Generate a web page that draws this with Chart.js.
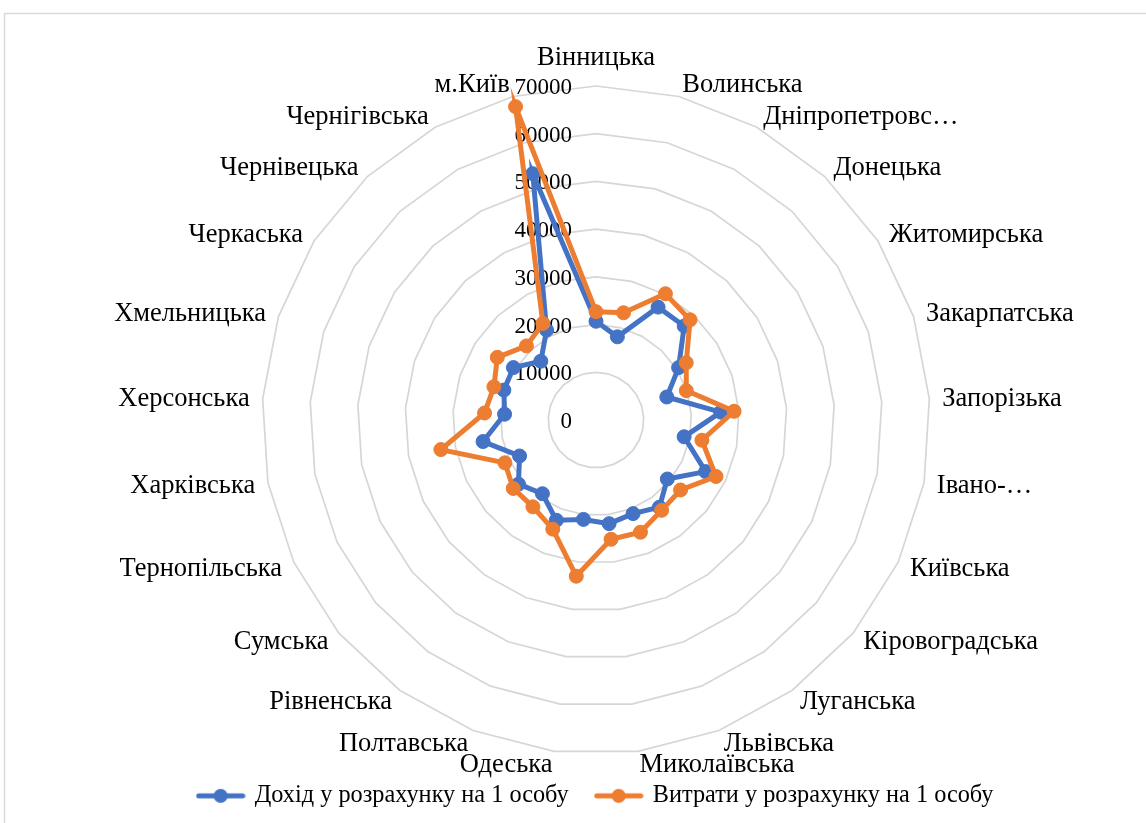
<!DOCTYPE html>
<html>
<head>
<meta charset="utf-8">
<script src="https://cdn.jsdelivr.net/npm/chart.js@4.4.1/dist/chart.umd.min.js"></script>
<style>
  html, body { margin: 0; padding: 0; background: #fff; }
  #wrap { width: 1146px; height: 823px; position: relative; }
</style>
</head>
<body>
<div id="wrap"><canvas id="radarChart"></canvas></div>
<script>
const regions = [
    'Вінницька', 'Волинська', 'Дніпропетровс…', 'Донецька', 'Житомирська',
    'Закарпатська', 'Запорізька', 'Івано-…', 'Київська', 'Кіровоградська',
    'Луганська', 'Львівська', 'Миколаївська', 'Одеська', 'Полтавська',
    'Рівненська', 'Сумська', 'Тернопільська', 'Харківська', 'Херсонська',
    'Хмельницька', 'Черкаська', 'Чернівецька', 'Чернігівська', 'м.Київ'
];
const incomePerPerson = [
    20700, 18000, 27000, 27000, 20500,
    15600, 26200, 18800, 25400, 19400,
    22600, 21100, 21900, 21000, 22600,
    19100, 21100, 17700, 24100, 19200,
    20300, 20500, 16900, 21500, 53300
];
const expensesPerPerson = [
    22700, 23200, 30200, 28800, 22400,
    19900, 29000, 22600, 27800, 23000,
    23400, 25300, 25200, 33000, 24600,
    22500, 22500, 21100, 33100, 23400,
    22500, 24500, 21300, 23100, 67800
];
const seriesNames = ['Дохід у розрахунку на 1 особу', 'Витрати у розрахунку на 1 особу'];
const seriesColors = ['#4472C4', '#ED7D31'];
const axisMax = 70000;
const axisStep = 10000;

const FONT_FAMILY = "'Liberation Serif', 'Times New Roman', serif";
const TICK_FONT_SIZE = 23;
const LABEL_FONT_SIZE = 26.5;
const LEGEND_FONT_SIZE = 24.3;

// line + marker sample for the legend, like in Excel
function makeLegendMarker(color) {
    const c = document.createElement('canvas');
    c.width = 50;
    c.height = 18;
    const g = c.getContext('2d');
    g.strokeStyle = color;
    g.lineWidth = 5;
    g.lineCap = 'round';
    g.beginPath();
    g.moveTo(3, 9);
    g.lineTo(47, 9);
    g.stroke();
    g.fillStyle = color;
    g.beginPath();
    g.arc(25, 9, 7, 0, Math.PI * 2);
    g.fill();
    return c;
}

const framePlugin = {
    id: 'frame',
    beforeDraw(chart) {
        const ctx = chart.ctx;
        ctx.save();
        ctx.fillStyle = '#fff';
        ctx.fillRect(0, 0, chart.width, chart.height);
        ctx.strokeStyle = '#d9d9d9';
        ctx.lineWidth = 1.5;
        ctx.strokeRect(4.5, 13.5, chart.width + 20, chart.height + 20);
        ctx.restore();
    }
};

// value labels on the left of the vertical axis
const tickLabelsPlugin = {
    id: 'tickLabels',
    beforeDatasetsDraw(chart) {
        const scale = chart.scales.r;
        const ctx = chart.ctx;
        ctx.save();
        ctx.font = TICK_FONT_SIZE + 'px ' + FONT_FAMILY;
        ctx.fillStyle = '#000';
        ctx.textAlign = 'right';
        ctx.textBaseline = 'middle';
        scale.ticks.forEach(function (t) {
            const y = scale.yCenter - scale.getDistanceFromCenterForValue(t.value);
            ctx.fillText(String(t.value), scale.xCenter - 24, y + 2);
        });
        ctx.restore();
    }
};

// category names placed around the web
const categoryLabelsPlugin = {
    id: 'categoryLabels',
    afterDatasetsDraw(chart) {
        const scale = chart.scales.r;
        const ctx = chart.ctx;
        ctx.save();
        ctx.font = LABEL_FONT_SIZE + 'px ' + FONT_FAMILY;
        ctx.fillStyle = '#000';
        ctx.textBaseline = 'middle';
        chart.data.labels.forEach(function (label, i) {
            const p = scale.getPointPosition(i, scale.drawingArea + 13);
            let y = p.y + 1;
            if (i === 0) {
                ctx.textAlign = 'center';
                y -= 16;
            } else if (p.x > scale.xCenter) {
                ctx.textAlign = 'left';
            } else {
                ctx.textAlign = 'right';
            }
            ctx.fillText(label, p.x, y);
        });
        ctx.restore();
    }
};

document.addEventListener('DOMContentLoaded', function () {
    const canvas = document.getElementById('radarChart');
    const legendMarkers = seriesColors.map(makeLegendMarker);

    new Chart(canvas.getContext('2d'), {
        type: 'radar',
        data: {
            labels: regions,
            datasets: [{
                label: seriesNames[0],
                data: incomePerPerson,
                borderColor: seriesColors[0],
                backgroundColor: seriesColors[0],
                pointBackgroundColor: seriesColors[0],
                pointBorderColor: seriesColors[0],
                borderWidth: 5,
                pointRadius: 7,
                pointBorderWidth: 1,
                fill: false,
                order: 1
            }, {
                label: seriesNames[1],
                data: expensesPerPerson,
                borderColor: seriesColors[1],
                backgroundColor: seriesColors[1],
                pointBackgroundColor: seriesColors[1],
                pointBorderColor: seriesColors[1],
                borderWidth: 5,
                pointRadius: 7,
                pointBorderWidth: 1,
                fill: false,
                order: 0
            }]
        },
        options: {
            responsive: true,
            maintainAspectRatio: false,
            animation: false,
            layout: {
                padding: { left: 46, right: 0, top: 86, bottom: 5 }
            },
            elements: {
                line: { tension: 0 }
            },
            scales: {
                r: {
                    min: 0,
                    max: axisMax,
                    beginAtZero: true,
                    ticks: {
                        stepSize: axisStep,
                        display: false
                    },
                    grid: {
                        color: '#d6d6d6',
                        lineWidth: 1.7,
                        circular: false
                    },
                    angleLines: { display: false },
                    pointLabels: { display: false }
                }
            },
            plugins: {
                tooltip: { enabled: false },
                legend: {
                    position: 'bottom',
                    labels: {
                        usePointStyle: true,
                        pointStyleWidth: 44,
                        padding: 28,
                        color: '#000',
                        font: { family: FONT_FAMILY, size: LEGEND_FONT_SIZE },
                        sort: function (a, b) { return a.datasetIndex - b.datasetIndex; },
                        generateLabels: function (chart) {
                            const items = Chart.defaults.plugins.legend.labels.generateLabels(chart);
                            items.forEach(function (item) {
                                item.pointStyle = legendMarkers[item.datasetIndex];
                            });
                            return items;
                        }
                    }
                }
            }
        },
        plugins: [framePlugin, tickLabelsPlugin, categoryLabelsPlugin]
    });
});
</script>
</body>
</html>
